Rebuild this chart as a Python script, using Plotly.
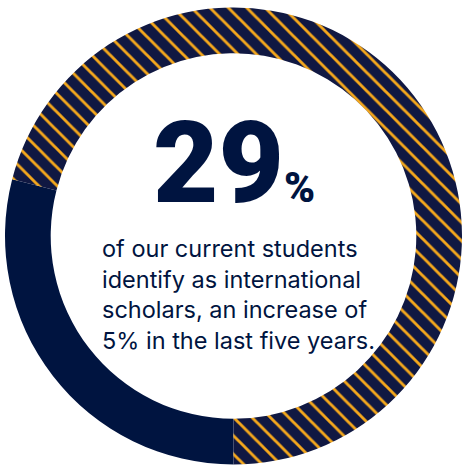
import plotly.graph_objects as go

# Share of students identifying as international scholars
labels = ["International scholars", "Other students"]
values = [29, 71]
headline = "29"
body_lines = [
    "of our current students",
    "identify as international",
    "scholars, an increase of",
    "5% in the last five years.",
]

NAVY = "#001440"
STRIPE_BG = "#101842"
GOLD = "#f5a81c"

W, H = 462, 466

fig = go.Figure(
    go.Pie(
        labels=labels,
        values=values,
        sort=False,
        direction="clockwise",
        rotation=180,
        hole=0.80,
        textinfo="none",
        hoverinfo="label+percent",
        marker=dict(
            colors=[NAVY, STRIPE_BG],
            line=dict(width=0),
            pattern=dict(
                shape=["", "\\"],
                fgcolor=GOLD,
                bgcolor=STRIPE_BG,
                fgopacity=1,
                size=13,
                solidity=0.22,
                fillmode="replace",
            ),
        ),
        domain=dict(x=[5 / W, 1.0], y=[1.5 / H, 458.5 / H]),
        showlegend=False,
    )
)

fig.add_annotation(
    x=234 / W, y=1 - 232 / H, xref="paper", yref="paper",
    xanchor="center", yanchor="bottom",
    text=headline + "<span style='font-size:42px'>%</span>",
    showarrow=False,
    font=dict(family="Roboto, 'Liberation Sans', sans-serif", size=113, color=NAVY, weight=900),
)

fig.add_annotation(
    x=100 / W, y=1 - 232 / H, xref="paper", yref="paper",
    xanchor="left", yanchor="top", align="left",
    text="<br>".join(body_lines),
    showarrow=False,
    font=dict(family="Inter, Roboto, sans-serif", size=23.5, color=NAVY),
)

fig.update_layout(
    width=W, height=H, autosize=False,
    margin=dict(l=0, r=0, t=0, b=0),
    paper_bgcolor="white", plot_bgcolor="white",
)

fig.write_html("out.html")
